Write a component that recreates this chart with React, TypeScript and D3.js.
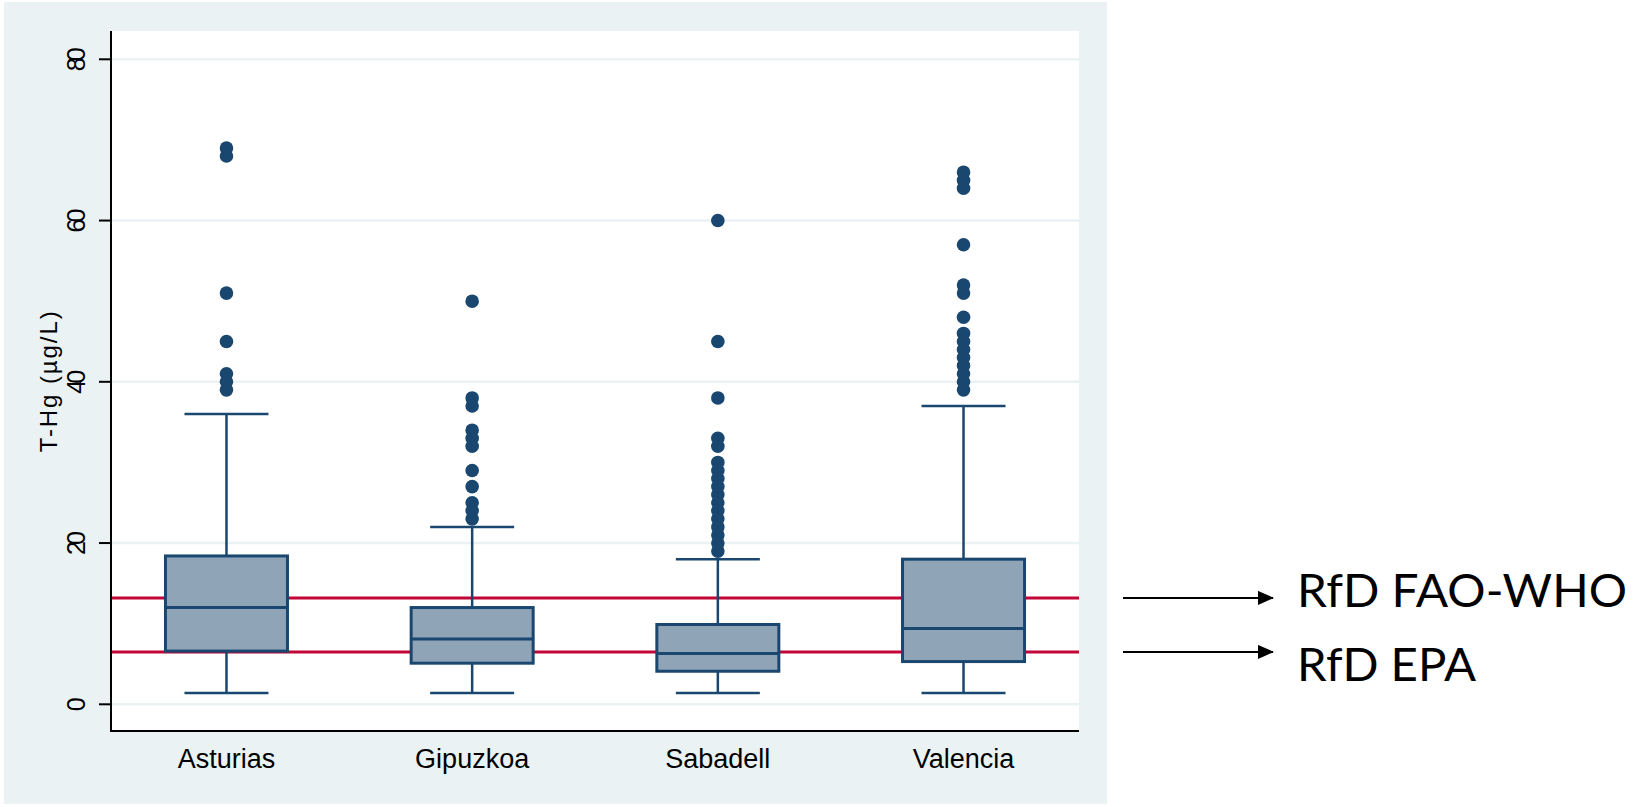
import React from "react";
import * as d3 from "d3";

// Blood total mercury by cohort (µg/L)
const categories = ["Asturias", "Gipuzkoa", "Sabadell", "Valencia"];
const lowerWhisker = [1.4, 1.4, 1.4, 1.4];
const q1 = [6.6, 5.1, 4.1, 5.3];
const medians = [12.0, 8.1, 6.3, 9.4];
const q3 = [18.4, 12.0, 9.9, 18.0];
const upperWhisker = [36, 22, 18, 37];

const asturiasOutliers = [39, 40, 41, 45, 51, 68, 69];
const gipuzkoaOutliers = [23, 24, 25, 27, 29, 32, 33, 34, 37, 38, 50];
const sabadellOutliers = [19, 20, 21, 22, 23, 24, 25, 26, 27, 28, 29, 30, 32, 33, 38, 45, 60];
const valenciaOutliers = [39, 40, 41, 42, 43, 44, 45, 46, 48, 51, 52, 57, 64, 65, 66];
const outliers = [asturiasOutliers, gipuzkoaOutliers, sabadellOutliers, valenciaOutliers];

// Reference doses drawn as horizontal lines
const refLabels = ["RfD FAO-WHO", "RfD EPA"];
const refValues = [13.2, 6.5];

const yTicks = [0, 20, 40, 60, 80];
const yTitle = "T-Hg (µg/L)";

const NAVY = "#1a476f";
const BOX_FILL = "#8fa4b7";
const RED = "#c10534";
const BG = "#eaf2f3";

export default function App() {
  const left = 111;
  const right = 1079;
  const top = 31;
  const bottom = 731;

  const y = d3.scaleLinear().domain([0, 80]).range([704.3, 59.3]);
  const x = d3.scalePoint<string>().domain(categories).range([left, right]).padding(0.47);

  const boxW = 122;
  const capW = 84;

  // label layout beside the arrows
  const refTextWidths = [330, 179];
  const refTextBaselines = [607, 681];

  return (
    <svg
      width={1633}
      height={807}
      style={{ position: "absolute", left: 0, top: 0, fontFamily: "'Liberation Sans', Arial, sans-serif" }}
    >
      <defs>
        <marker id="arrowHead" viewBox="0 0 16 14" refX="15" refY="7" markerWidth="16" markerHeight="14" markerUnits="userSpaceOnUse" orient="auto">
          <path d="M0,0 L16,7 L0,14 Z" fill="#000" />
        </marker>
      </defs>
      {/* outer graph region */}
      <rect x={4} y={2} width={1103} height={802} fill={BG} />
      {/* plot region */}
      <rect x={left} y={top} width={right - left} height={bottom - top} fill="#fff" />

      {/* gridlines */}
      {yTicks.map((t) => (
        <line key={"g" + t} x1={left} x2={right} y1={y(t)} y2={y(t)} stroke={BG} strokeWidth={2.5} />
      ))}

      {/* reference dose lines */}
      {refValues.map((v, i) => (
        <line key={"r" + i} x1={left} x2={right} y1={y(v)} y2={y(v)} stroke={RED} strokeWidth={3} />
      ))}

      {/* boxes */}
      {categories.map((c, i) => {
        const cx = x(c) as number;
        return (
          <g key={c}>
            <line x1={cx} x2={cx} y1={y(q3[i])} y2={y(upperWhisker[i])} stroke={NAVY} strokeWidth={2.5} />
            <line x1={cx} x2={cx} y1={y(q1[i])} y2={y(lowerWhisker[i])} stroke={NAVY} strokeWidth={2.5} />
            <line x1={cx - capW / 2} x2={cx + capW / 2} y1={y(upperWhisker[i])} y2={y(upperWhisker[i])} stroke={NAVY} strokeWidth={2.5} />
            <line x1={cx - capW / 2} x2={cx + capW / 2} y1={y(lowerWhisker[i])} y2={y(lowerWhisker[i])} stroke={NAVY} strokeWidth={2.5} />
            <rect
              x={cx - boxW / 2}
              y={y(q3[i])}
              width={boxW}
              height={y(q1[i]) - y(q3[i])}
              fill={BOX_FILL}
              stroke={NAVY}
              strokeWidth={3}
            />
            <line x1={cx - boxW / 2} x2={cx + boxW / 2} y1={y(medians[i])} y2={y(medians[i])} stroke={NAVY} strokeWidth={3} />
            {outliers[i].map((v, j) => (
              <circle key={j} cx={cx} cy={y(v)} r={6.8} fill={NAVY} />
            ))}
          </g>
        );
      })}

      {/* axes */}
      <line x1={left} x2={left} y1={top} y2={bottom + 1} stroke="#000" strokeWidth={2} />
      <line x1={left - 1} x2={right} y1={bottom} y2={bottom} stroke="#000" strokeWidth={2} />
      {yTicks.map((t) => (
        <g key={"t" + t}>
          <line x1={left - 12} x2={left} y1={y(t)} y2={y(t)} stroke="#000" strokeWidth={2} />
          <text
            transform={`translate(76,${y(t)}) rotate(-90)`}
            textAnchor="middle"
            dominantBaseline="central"
            fontSize={25}
            fill="#000"
            textLength={t === 0 ? undefined : 24}
            lengthAdjust="spacing"
          >
            {t}
          </text>
        </g>
      ))}
      <text
        transform={`translate(48,${y(40)}) rotate(-90)`}
        textAnchor="middle"
        dominantBaseline="central"
        fontSize={24}
        fill="#000"
        textLength={141}
        lengthAdjust="spacing"
      >
        {yTitle}
      </text>
      {categories.map((c) => (
        <text key={"l" + c} x={x(c) as number} y={759} textAnchor="middle" dominantBaseline="central" fontSize={27} fill="#000">
          {c}
        </text>
      ))}

      {/* reference dose annotations */}
      {refValues.map((v, i) => (
        <g key={"a" + i}>
          <line x1={1123} x2={1273} y1={y(v)} y2={y(v)} stroke="#000" strokeWidth={2} markerEnd="url(#arrowHead)" />
          <text
            x={1297}
            y={refTextBaselines[i]}
            fontFamily="Lato, 'Open Sans', sans-serif"
            fontSize={46}
            fill="#000"
            textLength={refTextWidths[i]}
            lengthAdjust="spacingAndGlyphs"
          >
            {refLabels[i]}
          </text>
        </g>
      ))}
    </svg>
  );
}
